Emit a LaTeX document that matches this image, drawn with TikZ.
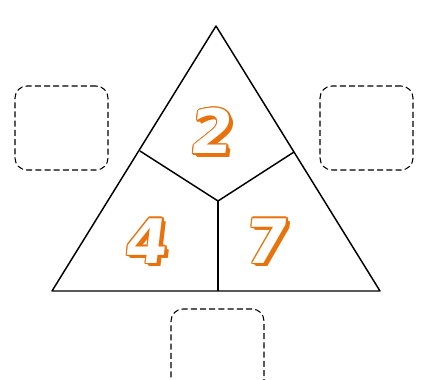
\documentclass[tikz,border=0pt]{standalone}
\usepackage{fontspec}
\newfontfamily\digitfont{DejaVu Sans}
\definecolor{digitorange}{HTML}{E8720C}
\tikzset{
  px/.style={x=0.75pt,y=-0.75pt},
  tri/.style={draw=black,line width=1.1pt,line join=round},
  part/.style={draw=black,line width=1.1pt},
  blank/.style={draw=black,line width=0.8pt,dash pattern=on 4.5pt off 2.4pt,rounded corners=9pt,minimum width=69.75pt,minimum height=63pt,inner sep=0pt},
  digit/.style={font=\digitfont\bfseries\fontsize{46}{46}\selectfont,inner sep=0pt,xslant=0.12},
}
\newcommand{\fancydigit}[4]{%
  % #1 name, #2 x, #3 y, #4 digit
  \foreach \dd in {1,2,3,3.5} {
    \node[digit,text=digitorange] at (#2+\dd,#3+\dd) {#4};
  }
  \foreach \ang in {0,30,...,330} {
    \node[digit,text=digitorange] at ({#2+1.5*cos(\ang)},{#3+1.5*sin(\ang)}) {#4};
  }
  \node[digit,text=white] (#1) at (#2,#3) {#4};
}
\begin{document}
\begin{tikzpicture}[px]
\useasboundingbox (0,0) rectangle (427,379);
\clip (0,0) rectangle (427,379);
\coordinate (top) at (216,26);
\coordinate (bl) at (52,291);
\coordinate (br) at (380,291);
\coordinate (ml) at (140,151);
\coordinate (mr) at (294,152);
\coordinate (c) at (218,201);
\coordinate (mb) at (218,291);
\draw[tri] (top) -- (bl) -- (br) -- cycle;
\draw[part] (ml) -- (c) -- (mr);
\draw[part] (c) -- (mb);
\node[blank] (boxl) at (61.5,128) {};
\node[blank] (boxr) at (366.5,128) {};
\node[blank,minimum height=90pt] (boxb) at (217.5,369) {};
\fancydigit{two}{213}{131}{2}
\fancydigit{four}{148}{241}{4}
\fancydigit{seven}{268}{241}{7}
\end{tikzpicture}
\end{document}
